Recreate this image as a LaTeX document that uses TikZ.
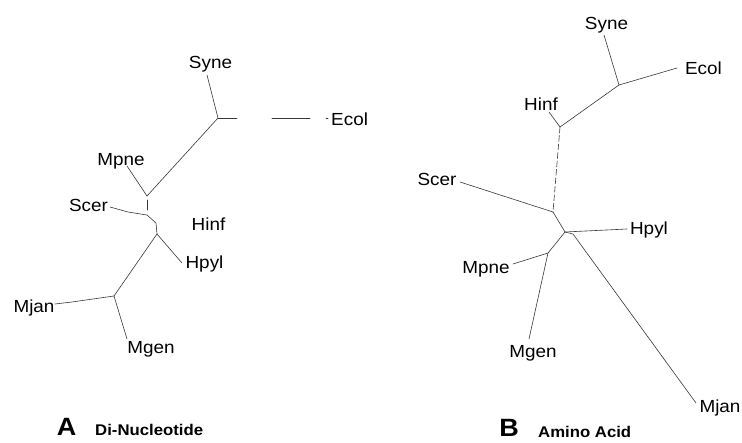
\documentclass[tikz,border=0pt]{standalone}
\usepackage{fontspec}
\setmainfont{Liberation Sans}[FakeStretch=1.08]
\begin{document}
\begin{tikzpicture}[x=1pt,y=-1pt,
  lbl/.style={inner sep=0pt,anchor=base,font=\fontsize{17.5}{20}\selectfont},
  panel/.style={inner sep=0pt,anchor=base,font=\fontsize{25}{28}\selectfont\bfseries},
  ptitle/.style={inner sep=0pt,anchor=base west,font=\fontsize{15.5}{18}\selectfont\bfseries},
  br/.style={draw=black!78,line width=0.6pt,line cap=round},
  dsh/.style={br,dash pattern=on 6pt off 2.5pt}]
\useasboundingbox (0,0) rectangle (742,442);
\fill[white] (0,0) rectangle (742,442);

% ---------------- Panel A ----------------
\node[lbl] (SyneA) at (210.5,68) {Syne};
\node[lbl,anchor=base west] (EcolA) at (331,125) {Ecol};
\node[lbl] (MpneA) at (121,165) {Mpne};
\node[lbl] (ScerA) at (88.5,211) {Scer};
\node[lbl] (HinfA) at (208.5,230) {Hinf};
\node[lbl] (HpylA) at (204.5,268) {Hpyl};
\node[lbl] (MjanA) at (34,312) {Mjan};
\node[lbl] (MgenA) at (151,353) {Mgen};
\node[panel] (labA) at (66.5,435) {A};
\node[ptitle] (titA) at (95,435) {Di-Nucleotide};

\coordinate (a1) at (218,118);
\coordinate (a2) at (147,196);
\coordinate (a3) at (147,215);
\coordinate (a3b) at (156,223);
\coordinate (a4) at (157,234);
\coordinate (a5) at (114,296);
\coordinate (tSyneA) at (207,75);
\coordinate (tEcolA) at (328,118);
\coordinate (tMpneA) at (127,166);
\coordinate (tScerA) at (110,207);
\coordinate (tHpylA) at (182,263);
\coordinate (tMjanA) at (55,304);
\coordinate (tMgenA) at (127,339);

\draw[br] (tSyneA) -- (a1);
\draw[br,dash pattern=on 19pt off 35pt on 38pt off 16pt on 2pt off 20pt] (a1) -- (tEcolA);
\draw[br] (a1) -- (a2);
\draw[br] (tMpneA) -- (a2);
\draw[br,dash pattern=on 0pt off 4pt on 10pt off 10pt] (a2) -- (a3);
\draw[br] (tScerA) -- (128,212) -- (a3);
\draw[br] (a3) -- (a3b) -- (a4);
\draw[br] (a4) -- (tHpylA);
\draw[br] (a4) -- (a5);
\draw[br] (a5) -- (72,302) -- (tMjanA);
\draw[br] (a5) -- (tMgenA);

% ---------------- Panel B ----------------
\node[lbl] (SyneB) at (606.5,29) {Syne};
\node[lbl] (EcolB) at (703.5,74) {Ecol};
\node[lbl] (HinfB) at (541,110) {Hinf};
\node[lbl] (ScerB) at (437,185) {Scer};
\node[lbl] (HpylB) at (649,234) {Hpyl};
\node[lbl] (MpneB) at (486,273) {Mpne};
\node[lbl] (MgenB) at (533,357) {Mgen};
\node[lbl] (MjanB) at (720,412) {Mjan};
\node[panel] (labB) at (509,436.5) {B};
\node[ptitle] (titB) at (538,437.5) {Amino Acid};

\coordinate (b1) at (619,85);
\coordinate (b2) at (560,127);
\coordinate (b3) at (553,212);
\coordinate (b4) at (565,232);
\coordinate (b5) at (548,253);
\coordinate (tSyneB) at (604,35);
\coordinate (tEcolB) at (677,68);
\coordinate (tHinfB) at (549,112);
\coordinate (tScerB) at (460,182);
\coordinate (tHpylB) at (627,229);
\coordinate (tMjanB) at (696,403);
\coordinate (tMpneB) at (513,264);
\coordinate (tMgenB) at (529,339);

\draw[br] (tSyneB) -- (b1);
\draw[br] (b1) -- (tEcolB);
\draw[br] (b1) -- (b2);
\draw[br] (tHinfB) -- (b2);
\draw[dsh] (b2) -- (b3);
\draw[br] (tScerB) -- (b3);
\draw[br] (b3) -- (b4);
\draw[br] (b4) -- (tHpylB);
\draw[br] (b4) -- (573,234) -- (tMjanB);
\draw[br] (b4) -- (b5);
\draw[br] (b5) -- (tMpneB);
\draw[br] (b5) -- (tMgenB);
\end{tikzpicture}
\end{document}
